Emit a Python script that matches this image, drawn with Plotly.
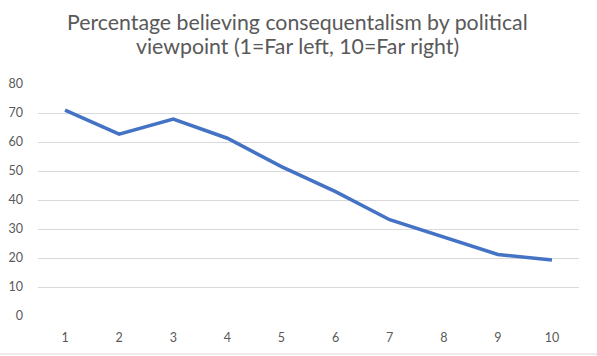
import plotly.graph_objects as go

categories = ["1", "2", "3", "4", "5", "6", "7", "8", "9", "10"]
values = [71.0, 62.7, 67.9, 61.3, 51.5, 42.9, 33.2, 27.3, 21.2, 19.3]
y_ticks = [0, 10, 20, 30, 40, 50, 60, 70, 80]
title_lines = [
    "Percentage believing consequentalism by political",
    "viewpoint (1=Far left, 10=Far right)",
]

FONT = "Lato, Carlito, Calibri, sans-serif"

fig = go.Figure()
fig.add_trace(go.Scatter(
    x=categories, y=values, mode="lines",
    line=dict(color="#4472C4", width=3.5),
    hoverinfo="x+y",
))

title_y = [1.267, 1.164]
annotations = [
    dict(text=t, x=0.48, y=yy, xref="paper", yref="paper",
         xanchor="center", yanchor="middle", showarrow=False,
         font=dict(size=21.3, color="#595959", family=FONT))
    for t, yy in zip(title_lines, title_y)
]

fig.update_layout(
    width=597, height=356,
    margin=dict(l=38, r=18, t=84, b=40, autoexpand=False),
    paper_bgcolor="white", plot_bgcolor="white",
    font=dict(family=FONT, color="#595959", size=12),
    showlegend=False,
    annotations=annotations,
    xaxis=dict(
        type="category", range=[-0.5, 9.5], showgrid=False, showline=False,
        zeroline=False, ticks="", tickfont=dict(size=12.5, color="#595959"),
        ticklabelstandoff=12, automargin=False,
    ),
    yaxis=dict(
        range=[0, 80], tickvals=y_ticks, showgrid=True, gridcolor="#d9d9d9",
        gridwidth=1, zeroline=False, showline=False, ticks="",
        tickfont=dict(size=12.5, color="#595959"), ticklabelstandoff=14,
        automargin=False,
    ),
    shapes=[dict(
        type="line", xref="paper", yref="paper", x0=-0.07, x1=1.04,
        y0=-0.1638, y1=-0.1638, line=dict(color="#d9d9d9", width=1),
    )],
)

fig.write_html("out.html", config={"displayModeBar": False},
               post_script="document.body.style.margin='0';")
